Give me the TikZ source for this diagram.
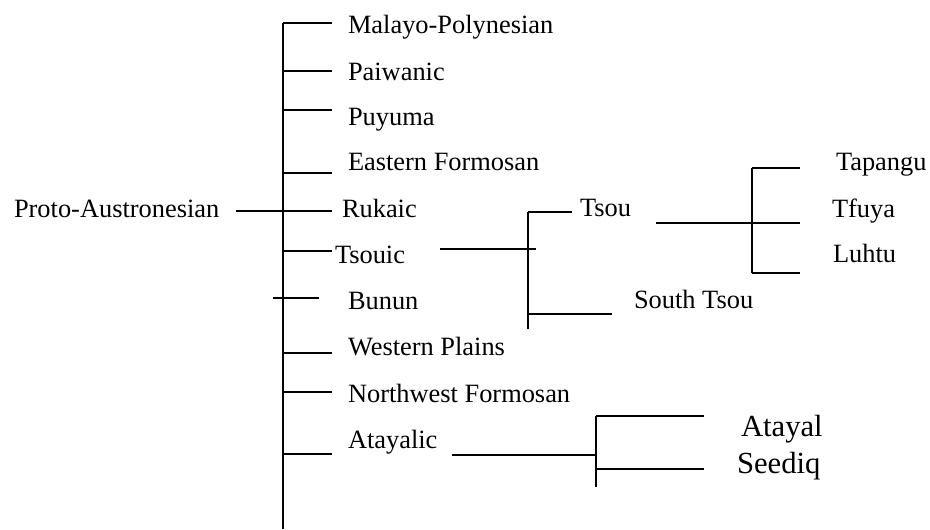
\documentclass[tikz,border=0pt]{standalone}
\usepackage{fontspec}
\setmainfont{Liberation Serif}
\usetikzlibrary{positioning}
\tikzset{
  lbl/.style={anchor=base west, inner sep=0pt, font=\fontsize{19.8}{24}\selectfont},
  biglbl/.style={lbl, font=\fontsize{23}{28}\selectfont},
  twig/.style={line width=1.5pt}
}

\begin{document}
\begin{tikzpicture}[x=0.75pt, y=-0.75pt, twig]
\useasboundingbox (0,0) rectangle (930,529);
% root and spine
\node[lbl] (pan) at (13,217) {Proto-Austronesian};
\coordinate (top) at (283,23);
\coordinate (bot) at (283,529);
\draw (top) -- (bot);
% first order branches
\foreach \ly/\ty/\tx/\nm/\txt in {23/33/347/mp/Malayo-Polynesian, 71/80/347/pw/Paiwanic,
    110/125/347/pu/Puyuma, 173/170/347/ef/Eastern Formosan, 211/217/341/ru/Rukaic,
    251/263/334/ts/Tsouic, 353/355/347/wp/Western Plains, 392/402/347/nw/Northwest Formosan,
    454/448/347/at/Atayalic} {
  \node[lbl] (\nm) at (\tx,\ty) {\txt};
  \coordinate (\nm-e) at (332,\ly);
  \draw (top |- \nm-e) -- (\nm-e);
}
\coordinate (pan-e) at (236,211);
\draw (pan-e) -- (ru-e);
\node[lbl] (bu) at (347,309) {Bunun};
\coordinate (bu-s) at (273,298);
\coordinate (bu-e) at (319,298);
\draw (bu-s) -- (bu-e);
% Tsouic
\coordinate (ts-s) at (440,249);
\coordinate (ts-j) at (536,249);
\draw (ts-s) -- (ts-j);
\coordinate (tsv-t) at (528,212);
\coordinate (tsv-b) at (528,329);
\draw (tsv-t) -- (tsv-b);
\node[lbl] (tsou) at (579,216) {Tsou};
\node[lbl] (stsou) at (633,308) {South Tsou};
\coordinate (tsou-e) at (572,212);
\coordinate (stsou-e) at (612,314);
\draw (tsv-t) -- (tsou-e);
\draw (tsv-b |- stsou-e) -- (stsou-e);
% Tsou
\coordinate (tsou-s) at (656,223);
\coordinate (tf-e) at (800,223);
\draw (tsou-s) -- (tf-e);
\coordinate (tsouv-t) at (752,168);
\coordinate (tsouv-b) at (752,273);
\draw (tsouv-t) -- (tsouv-b);
\coordinate (tp-e) at (800,168);
\coordinate (lu-e) at (800,273);
\draw (tsouv-t) -- (tp-e);
\draw (tsouv-b) -- (lu-e);
\node[lbl] (tp) at (835,170) {Tapangu};
\node[lbl] (tf) at (831,217) {Tfuya};
\node[lbl] (lu) at (832,262) {Luhtu};
% Atayalic
\coordinate (at-s) at (452,455);
\coordinate (atv-t) at (596,416);
\coordinate (atv-b) at (596,487);
\draw (at-s) -- (atv-t |- at-s);
\draw (atv-t) -- (atv-b);
\coordinate (ay-e) at (704,416);
\coordinate (sd-e) at (704,469);
\draw (atv-t) -- (ay-e);
\draw (atv-t |- sd-e) -- (sd-e);
\node[biglbl] (ay) at (740,436) {Atayal};
\node[biglbl] (sd) at (736,473) {Seediq};
\end{tikzpicture}
\end{document}
